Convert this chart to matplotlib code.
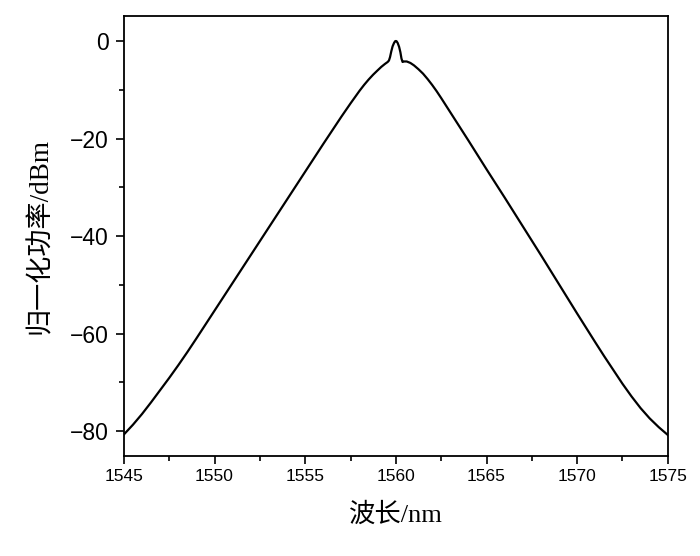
import numpy as np
import matplotlib.pyplot as plt
from matplotlib.ticker import MultipleLocator

# wavelength (nm) and normalised power (dBm)
wavelength = [1545.0, 1545.5, 1546.0, 1546.5, 1547.0, 1547.5, 1548.0, 1548.5,
              1549.0, 1550.0, 1551.0, 1552.0, 1553.0, 1554.0, 1555.0, 1556.0,
              1556.5, 1557.0, 1557.5, 1557.75, 1558.0, 1558.25, 1558.5, 1558.75,
              1559.0, 1559.2, 1559.4, 1559.55, 1559.62, 1559.68, 1559.75,
              1559.82, 1559.9, 1559.96, 1560.0, 1560.04, 1560.1, 1560.18,
              1560.25, 1560.31, 1560.37, 1560.45, 1560.6, 1560.8, 1561.0,
              1561.25, 1561.5, 1561.75, 1562.0, 1562.25, 1562.5, 1563.0,
              1563.5, 1564.0, 1565.0, 1566.0, 1567.0, 1568.0, 1569.0, 1570.0,
              1571.0, 1571.5, 1572.0, 1572.5, 1573.0, 1573.5, 1574.0, 1574.5,
              1575.0]
power = [-80.7, -78.7, -76.5, -74.1, -71.6, -69.1, -66.5, -63.8,
         -61.0, -55.3, -49.6, -43.9, -38.2, -32.5, -26.8, -21.1,
         -18.3, -15.5, -12.8, -11.5, -10.2, -9.0, -7.9, -6.9,
         -6.0, -5.3, -4.7, -4.3, -4.0, -3.3, -2.1,
         -1.1, -0.4, -0.05, 0.0, -0.05, -0.4, -1.2,
         -2.3, -3.6, -4.3, -4.2, -4.2, -4.5, -5.0,
         -5.8, -6.7, -7.8, -9.0, -10.3, -11.7, -14.6,
         -17.5, -20.4, -26.3, -32.1, -38.0, -43.9, -49.9, -55.9,
         -61.8, -64.7, -67.5, -70.3, -72.9, -75.3, -77.4, -79.2,
         -80.8]

plt.rcParams['font.family'] = ['Liberation Sans', 'DejaVu Sans']
label_font = ['Liberation Serif', 'Noto Sans CJK SC']

fig = plt.figure(figsize=(7, 5.56), dpi=100)
ax = fig.add_axes([0.177, 0.18, 0.777, 0.791])
ax.plot(wavelength, power, color='black', lw=1.6)

ax.set_xlim(1545, 1575)
ax.set_ylim(-85.1, 5.1)
ax.xaxis.set_major_locator(MultipleLocator(5))
ax.xaxis.set_minor_locator(MultipleLocator(2.5))
ax.yaxis.set_major_locator(MultipleLocator(20))
ax.yaxis.set_minor_locator(MultipleLocator(10))
ax.tick_params(which='major', direction='out', length=6, width=1.2)
ax.tick_params(which='minor', direction='out', length=3.5, width=1.2)
ax.tick_params(axis='x', labelsize=12.5)
ax.tick_params(axis='y', labelsize=16.5, pad=5)
for s in ax.spines.values():
    s.set_linewidth(1.3)

ax.set_xlabel('波长/nm', family=label_font, fontsize=19, labelpad=13)
ax.set_ylabel('归一化功率/dBm', family=label_font, fontsize=19.5, labelpad=12)

fig.savefig('out.png', dpi=100)
